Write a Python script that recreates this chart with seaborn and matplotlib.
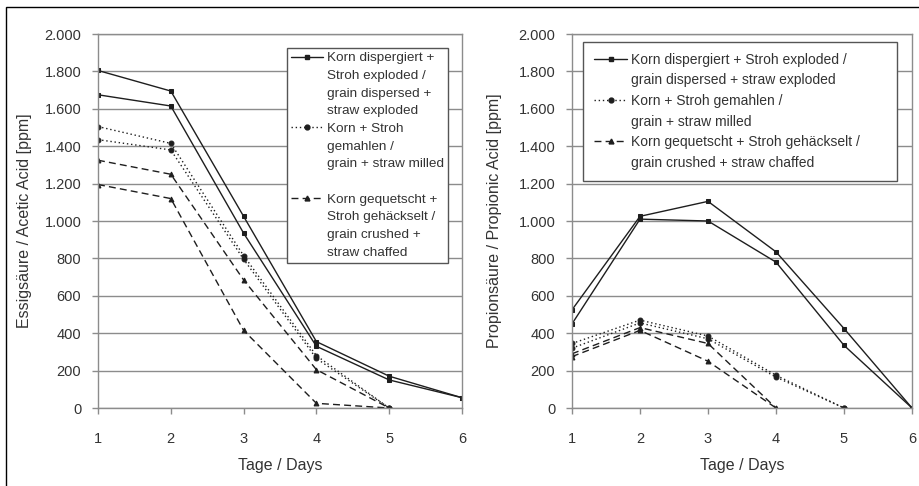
"""Acetic and propionic acid over storage days for three feed treatments."""

import matplotlib.pyplot as plt
import pandas as pd
import seaborn as sns
from matplotlib.lines import Line2D
from matplotlib.patches import Rectangle
from matplotlib.ticker import FuncFormatter

DAYS = [1, 2, 3, 4, 5, 6]

# Acetic acid [ppm], two replicates per treatment
ACETIC_DISPERSED_A = [1805, 1695, 1025, 355, 170, 55]
ACETIC_DISPERSED_B = [1675, 1615, 935, 330, 150, 55]
ACETIC_MILLED_A = [1505, 1415, 815, 280, 0]
ACETIC_MILLED_B = [1435, 1380, 795, 265, 0]
ACETIC_CRUSHED_A = [1325, 1250, 685, 205, 0]
ACETIC_CRUSHED_B = [1195, 1120, 415, 25, 0]

# Propionic acid [ppm]
PROPIONIC_DISPERSED_A = [525, 1025, 1105, 835, 425, 0]
PROPIONIC_DISPERSED_B = [450, 1010, 1000, 780, 335, 0]
PROPIONIC_MILLED_A = [345, 470, 385, 175, 0]
PROPIONIC_MILLED_B = [320, 455, 370, 165, 0]
PROPIONIC_CRUSHED_A = [290, 430, 345, 0]
PROPIONIC_CRUSHED_B = [275, 415, 250, 0]

Y_TICKS = [0, 200, 400, 600, 800, 1000, 1200, 1400, 1600, 1800, 2000]
X_LABEL = "Tage / Days"
Y_LABEL_LEFT = "Essigsäure / Acetic Acid [ppm]"
Y_LABEL_RIGHT = "Propionsäure / Propionic Acid [ppm]"

# legend text, one list of lines per treatment
LEGEND_LEFT = [
    ["Korn dispergiert +", "Stroh exploded /", "grain dispersed +", "straw exploded"],
    ["Korn + Stroh", "gemahlen /", "grain + straw milled", ""],
    ["Korn gequetscht +", "Stroh gehäckselt /", "grain crushed +", "straw chaffed"],
]
LEGEND_RIGHT = [
    ["Korn dispergiert + Stroh exploded /", "grain dispersed + straw exploded"],
    ["Korn + Stroh gemahlen /", "grain + straw milled"],
    ["Korn gequetscht + Stroh gehäckselt /", "grain crushed + straw chaffed"],
]

TREATMENTS = ["dispersed", "milled", "crushed"]
MARKERS = {"dispersed": "s", "milled": "o", "crushed": "^"}
DASHES = {"dispersed": "", "milled": (1, 2), "crushed": (5, 3)}
LINE_COLOR = "#1e1e1e"
GRID_COLOR = "#8c8c8c"
TEXT_COLOR = "#333333"


def to_long(series: list) -> pd.DataFrame:
    rows = []
    for treatment, rep, values in series:
        for day, value in zip(DAYS, values):
            rows.append({"day": day, "ppm": value, "treatment": treatment, "rep": rep})
    return pd.DataFrame(rows)


def style_axes(ax, ylabel: str, label_x: float) -> None:
    ax.set_xlim(1, 6)
    ax.set_ylim(0, 2000)
    ax.set_xticks(DAYS)
    ax.set_yticks(Y_TICKS)
    ax.yaxis.set_major_formatter(
        FuncFormatter(lambda v, _: f"{int(v):,}".replace(",", "."))
    )
    ax.yaxis.grid(True, color=GRID_COLOR, lw=1)
    ax.xaxis.grid(False)
    ax.set_axisbelow(True)
    for spine in ax.spines.values():
        spine.set_visible(True)
        spine.set_color(GRID_COLOR)
        spine.set_linewidth(1)
    ax.tick_params(axis="both", direction="out", length=4, width=1,
                   color=GRID_COLOR, labelsize=10.5, labelcolor=TEXT_COLOR,
                   bottom=True, left=True)
    ax.tick_params(axis="x", pad=13)
    ax.tick_params(axis="y", pad=8)
    ax.set_xlabel(X_LABEL, fontsize=11.5, color=TEXT_COLOR)
    ax.set_ylabel(ylabel, fontsize=11.5, color=TEXT_COLOR)
    ax.xaxis.set_label_coords(0.5, -0.135)
    ax.yaxis.set_label_coords(label_x, 0.5)


def add_legend(ax, text_lines, anchor, spacing, borderpad, fontsize):
    handles, labels = [], []
    for treatment, lines in zip(TREATMENTS, text_lines):
        for j, line in enumerate(lines):
            if j == 0:
                handles.append(Line2D([], [], color=LINE_COLOR, lw=1,
                                      marker=MARKERS[treatment], markersize=3.5,
                                      dashes=DASHES[treatment] or (None, None)))
            else:
                handles.append(Line2D([], [], linestyle="none"))
            labels.append(line if line else " ")
    leg = ax.legend(handles, labels, loc="upper left", bbox_to_anchor=anchor,
                    mode="expand", fontsize=fontsize, labelspacing=spacing,
                    handlelength=2.4, handletextpad=0.25, borderpad=borderpad,
                    borderaxespad=0, fancybox=False, framealpha=1,
                    edgecolor="#555555", labelcolor=TEXT_COLOR)
    leg.get_frame().set_linewidth(1)


def main() -> None:
    sns.set_theme(style="white")
    plt.rcParams["font.family"] = ["Liberation Sans", "DejaVu Sans"]

    acetic = to_long([
        ("dispersed", "a", ACETIC_DISPERSED_A),
        ("dispersed", "b", ACETIC_DISPERSED_B),
        ("milled", "a", ACETIC_MILLED_A),
        ("milled", "b", ACETIC_MILLED_B),
        ("crushed", "a", ACETIC_CRUSHED_A),
        ("crushed", "b", ACETIC_CRUSHED_B),
    ])
    propionic = to_long([
        ("dispersed", "a", PROPIONIC_DISPERSED_A),
        ("dispersed", "b", PROPIONIC_DISPERSED_B),
        ("milled", "a", PROPIONIC_MILLED_A),
        ("milled", "b", PROPIONIC_MILLED_B),
        ("crushed", "a", PROPIONIC_CRUSHED_A),
        ("crushed", "b", PROPIONIC_CRUSHED_B),
    ])

    fig = plt.figure(figsize=(9.19, 4.86), dpi=100)
    ax_left = fig.add_axes([98 / 919, 78 / 486, 364 / 919, 374 / 486])
    ax_right = fig.add_axes([572 / 919, 78 / 486, 340 / 919, 374 / 486])

    for ax, data in [(ax_left, acetic), (ax_right, propionic)]:
        sns.lineplot(data=data, x="day", y="ppm", style="treatment",
                     style_order=TREATMENTS, units="rep", estimator=None,
                     markers=MARKERS, dashes=DASHES, color=LINE_COLOR,
                     linewidth=1, markersize=3.5, markeredgecolor=LINE_COLOR,
                     legend=False, ax=ax)

    style_axes(ax_left, Y_LABEL_LEFT, -0.18)
    style_axes(ax_right, Y_LABEL_RIGHT, -0.205)

    add_legend(ax_left, LEGEND_LEFT, (0.519, 0.38, 0.443, 0.583), 0.39, 0.3, 9.7)
    add_legend(ax_right, LEGEND_RIGHT, (0.032, 0.6, 0.924, 0.379), 0.47, 0.8, 10)

    # thin frame around the whole picture
    fig.add_artist(Rectangle((6 / 919, -0.1), 1.1, 1.1 - 7 / 486,
                             transform=fig.transFigure, fill=False,
                             edgecolor="black", lw=1, clip_on=False))

    fig.savefig("out.png", dpi=100)
    plt.close(fig)


if __name__ == "__main__":
    main()
